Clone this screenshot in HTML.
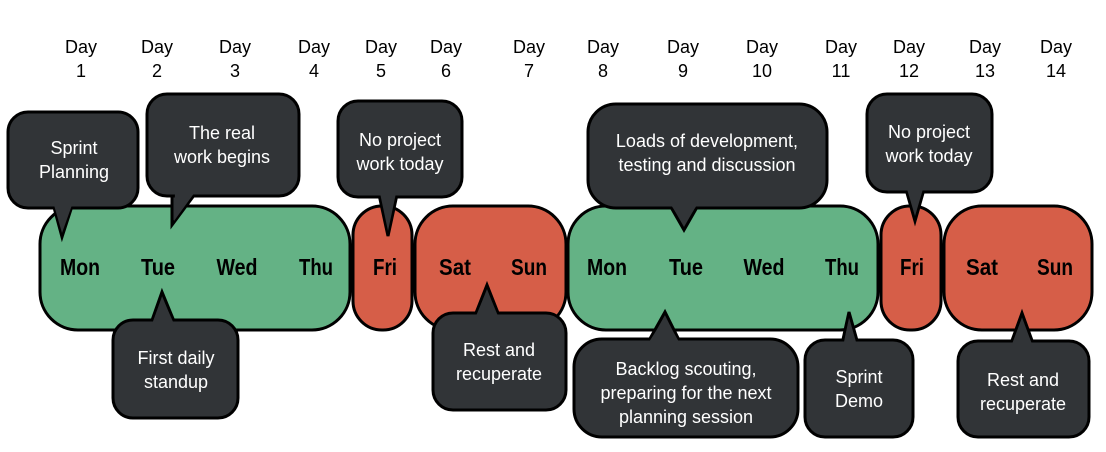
<!DOCTYPE html>
<html><head><meta charset="utf-8"><style>
html,body{margin:0;padding:0;background:#fff;}
svg{display:block;}
.d{font-family:"Liberation Sans",sans-serif;font-size:18px;fill:#000;text-anchor:middle;}
.w{font-family:"Liberation Sans Narrow","Liberation Sans",sans-serif;font-weight:bold;font-size:23px;fill:#000;text-anchor:middle;}
.c{font-family:"Liberation Sans",sans-serif;font-size:18px;fill:#fff;text-anchor:middle;}
.bx{stroke:#000;stroke-width:3;}
.cb{fill:#313437;stroke:#000;stroke-width:3;}
.tf{fill:#313437;stroke:none;}
</style></head><body>
<svg width="1106" height="452" viewBox="0 0 1106 452" xmlns="http://www.w3.org/2000/svg">
<g class="d">
<text x="81" y="53">Day</text><text x="81" y="77">1</text>
<text x="157" y="53">Day</text><text x="157" y="77">2</text>
<text x="235" y="53">Day</text><text x="235" y="77">3</text>
<text x="314" y="53">Day</text><text x="314" y="77">4</text>
<text x="381" y="53">Day</text><text x="381" y="77">5</text>
<text x="446" y="53">Day</text><text x="446" y="77">6</text>
<text x="529" y="53">Day</text><text x="529" y="77">7</text>
<text x="603" y="53">Day</text><text x="603" y="77">8</text>
<text x="683" y="53">Day</text><text x="683" y="77">9</text>
<text x="762" y="53">Day</text><text x="762" y="77">10</text>
<text x="841" y="53">Day</text><text x="841" y="77">11</text>
<text x="909" y="53">Day</text><text x="909" y="77">12</text>
<text x="985" y="53">Day</text><text x="985" y="77">13</text>
<text x="1056" y="53">Day</text><text x="1056" y="77">14</text>
</g>
<rect class="bx" x="40" y="206" width="310" height="124" rx="38" fill="#64b285"/>
<rect class="bx" x="353" y="206" width="59" height="124" rx="29" fill="#d65e48"/>
<rect class="bx" x="415" y="206" width="151" height="124" rx="38" fill="#d65e48"/>
<rect class="bx" x="568" y="206" width="310" height="124" rx="38" fill="#64b285"/>
<rect class="bx" x="881" y="206" width="60" height="124" rx="29" fill="#d65e48"/>
<rect class="bx" x="944" y="206" width="148" height="124" rx="38" fill="#d65e48"/>
<g class="w">
<text x="80" y="275" textLength="40" lengthAdjust="spacingAndGlyphs">Mon</text>
<text x="158" y="275" textLength="34" lengthAdjust="spacingAndGlyphs">Tue</text>
<text x="237" y="275" textLength="41" lengthAdjust="spacingAndGlyphs">Wed</text>
<text x="316" y="275" textLength="34" lengthAdjust="spacingAndGlyphs">Thu</text>
<text x="385" y="275" textLength="24" lengthAdjust="spacingAndGlyphs">Fri</text>
<text x="455" y="275" textLength="32" lengthAdjust="spacingAndGlyphs">Sat</text>
<text x="529" y="275" textLength="36" lengthAdjust="spacingAndGlyphs">Sun</text>
<text x="607" y="275" textLength="40" lengthAdjust="spacingAndGlyphs">Mon</text>
<text x="686" y="275" textLength="34" lengthAdjust="spacingAndGlyphs">Tue</text>
<text x="764" y="275" textLength="41" lengthAdjust="spacingAndGlyphs">Wed</text>
<text x="842" y="275" textLength="34" lengthAdjust="spacingAndGlyphs">Thu</text>
<text x="912" y="275" textLength="24" lengthAdjust="spacingAndGlyphs">Fri</text>
<text x="982" y="275" textLength="32" lengthAdjust="spacingAndGlyphs">Sat</text>
<text x="1055" y="275" textLength="36" lengthAdjust="spacingAndGlyphs">Sun</text>
</g>
<g>
<polygon class="cb" points="52,200 74,200 62,237"/>
<rect class="cb" x="8" y="112" width="130" height="96" rx="20"/>
<polygon class="tf" points="54,205 72,205 62,233"/>
<text class="c" x="74" y="154">Sprint</text><text class="c" x="74" y="178">Planning</text>
<polygon class="cb" points="172,190 198,190 172,225"/>
<rect class="cb" x="147" y="94" width="152" height="102" rx="20"/>
<polygon class="tf" points="175,192 195,192 174,221"/>
<text class="c" x="222" y="139">The real</text><text class="c" x="222" y="163">work begins</text>
<polygon class="cb" points="378,190 398,190 388,236"/>
<rect class="cb" x="338" y="101" width="124" height="96" rx="20"/>
<polygon class="tf" points="380,193 396,193 388,231"/>
<text class="c" x="400" y="146">No project</text><text class="c" x="400" y="170">work today</text>
<polygon class="cb" points="150,326 176,326 162,292"/>
<rect class="cb" x="113" y="320" width="125" height="98" rx="20"/>
<polygon class="tf" points="152,324 174,324 162,297"/>
<text class="c" x="176" y="364">First daily</text><text class="c" x="176" y="388">standup</text>
<polygon class="cb" points="474,318 500,318 487,285"/>
<rect class="cb" x="433" y="313" width="133" height="97" rx="20"/>
<polygon class="tf" points="476,316 498,316 487,290"/>
<text class="c" x="499" y="356">Rest and</text><text class="c" x="499" y="380">recuperate</text>
<polygon class="cb" points="668,202 700,202 684,230"/>
<rect class="cb" x="588" y="104" width="239" height="104" rx="28"/>
<polygon class="tf" points="671,205 697,205 684,225"/>
<text class="c" x="707" y="147">Loads of development,</text><text class="c" x="707" y="171">testing and discussion</text>
<polygon class="cb" points="647,344 681,344 665,312"/>
<rect class="cb" x="574" y="339" width="224" height="98" rx="28"/>
<polygon class="tf" points="649,342 679,342 665,317"/>
<text class="c" x="686" y="375">Backlog scouting,</text><text class="c" x="686" y="399">preparing for the next</text><text class="c" x="686" y="423">planning session</text>
<polygon class="cb" points="842,344 858,344 849,312"/>
<rect class="cb" x="805" y="340" width="108" height="97" rx="20"/>
<polygon class="tf" points="844,342 856,342 849,318"/>
<text class="c" x="859" y="383">Sprint</text><text class="c" x="859" y="407">Demo</text>
<polygon class="cb" points="905,186 925,186 915,221"/>
<rect class="cb" x="867" y="94" width="125" height="98" rx="20"/>
<polygon class="tf" points="907,189 923,189 915,216"/>
<text class="c" x="929" y="138">No project</text><text class="c" x="929" y="162">work today</text>
<polygon class="cb" points="1010,346 1034,346 1022,313"/>
<rect class="cb" x="958" y="341" width="131" height="96" rx="20"/>
<polygon class="tf" points="1012,344 1032,344 1022,318"/>
<text class="c" x="1023" y="386">Rest and</text><text class="c" x="1023" y="410">recuperate</text>
</g>
</svg>
</body></html>
